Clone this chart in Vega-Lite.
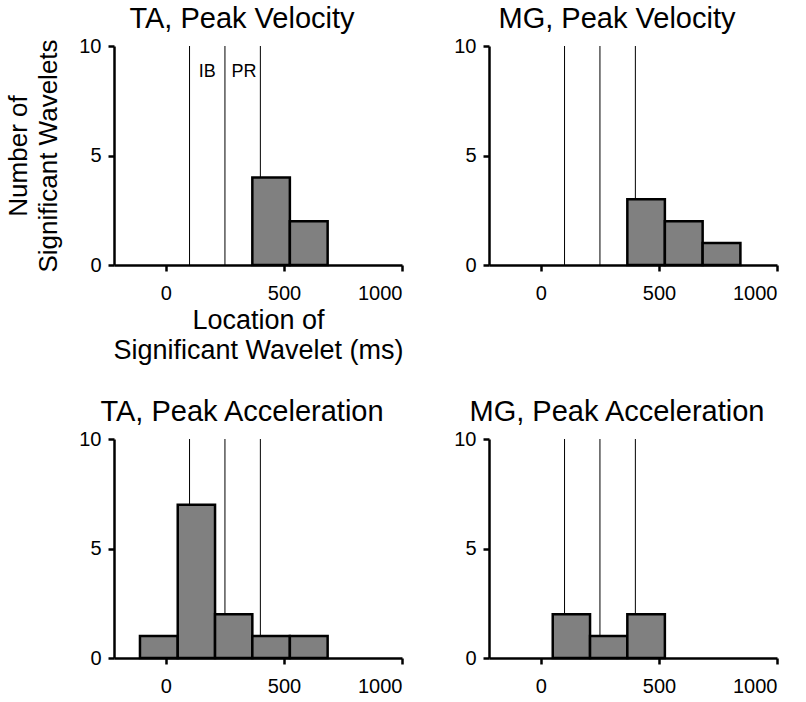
{
  "$schema": "https://vega.github.io/schema/vega-lite/v6.json",
  "background": "white",
  "padding": 5,
  "datasets": {
    "bars": [
      {"panel": "TA_PV", "start": 366, "end": 525, "count": 4},
      {"panel": "TA_PV", "start": 525, "end": 685, "count": 2},
      {"panel": "MG_PV", "start": 366, "end": 525, "count": 3},
      {"panel": "MG_PV", "start": 525, "end": 685, "count": 2},
      {"panel": "MG_PV", "start": 685, "end": 845, "count": 1},
      {"panel": "TA_PA", "start": -110, "end": 50, "count": 1},
      {"panel": "TA_PA", "start": 50, "end": 208, "count": 7},
      {"panel": "TA_PA", "start": 208, "end": 366, "count": 2},
      {"panel": "TA_PA", "start": 366, "end": 525, "count": 1},
      {"panel": "TA_PA", "start": 525, "end": 685, "count": 1},
      {"panel": "MG_PA", "start": 50, "end": 208, "count": 2},
      {"panel": "MG_PA", "start": 208, "end": 366, "count": 1},
      {"panel": "MG_PA", "start": 366, "end": 525, "count": 2}
    ],
    "lines": [{"x": 100}, {"x": 250}, {"x": 400}],
    "labels": [{"x": 175, "y": 8.8, "label": "IB"}, {"x": 331, "y": 8.8, "label": "PR"}]
  },
  "columns": 2,
  "align": "each",
  "spacing": {"row": 35, "column": 49},
  "concat": [
    {
      "width": 288, "height": 219,
      "title": {"text": "TA, Peak Velocity", "dx": -16},
      "layer": [
        {"data": {"name": "lines"}, "mark": {"type": "rule", "color": "black", "strokeWidth": 1},
         "encoding": {"x": {"field": "x", "type": "quantitative", "scale": {"domain": [-220, 1000], "nice": false, "zero": false}}}},
        {"data": {"name": "bars"}, "transform": [{"filter": "datum.panel === 'TA_PV'"}],
         "mark": {"type": "bar", "fill": "#808080", "stroke": "black", "strokeWidth": 2.5},
         "encoding": {
           "x": {"field": "start", "type": "quantitative", "scale": {"domain": [-220, 1000], "nice": false, "zero": false},
                 "axis": {"values": [0, 500, 1000], "format": "d", "title": ["Location of", "Significant Wavelet (ms)"]}},
           "x2": {"field": "end"},
           "y": {"field": "count", "type": "quantitative", "scale": {"domain": [0, 10], "nice": false},
                 "axis": {"values": [0, 5, 10], "title": ["Number of", "Significant Wavelets"], "titleFontSize": 26}},
           "y2": {"datum": 0}
         }},
        {"data": {"name": "labels"}, "mark": {"type": "text", "fontSize": 18, "baseline": "middle", "align": "center"},
         "encoding": {
           "x": {"field": "x", "type": "quantitative"},
           "y": {"field": "y", "type": "quantitative"},
           "text": {"field": "label"}
         }}
      ]
    },
    {
      "width": 288, "height": 219,
      "title": {"text": "MG, Peak Velocity", "dx": -16},
      "layer": [
        {"data": {"name": "lines"}, "mark": {"type": "rule", "color": "black", "strokeWidth": 1},
         "encoding": {"x": {"field": "x", "type": "quantitative", "scale": {"domain": [-220, 1000], "nice": false, "zero": false}}}},
        {"data": {"name": "bars"}, "transform": [{"filter": "datum.panel === 'MG_PV'"}],
         "mark": {"type": "bar", "fill": "#808080", "stroke": "black", "strokeWidth": 2.5},
         "encoding": {
           "x": {"field": "start", "type": "quantitative", "scale": {"domain": [-220, 1000], "nice": false, "zero": false},
                 "axis": {"values": [0, 500, 1000], "format": "d", "title": null}},
           "x2": {"field": "end"},
           "y": {"field": "count", "type": "quantitative", "scale": {"domain": [0, 10], "nice": false},
                 "axis": {"values": [0, 5, 10], "title": null}},
           "y2": {"datum": 0}
         }}
      ]
    },
    {
      "width": 288, "height": 219,
      "title": {"text": "TA, Peak Acceleration", "dx": -16},
      "layer": [
        {"data": {"name": "lines"}, "mark": {"type": "rule", "color": "black", "strokeWidth": 1},
         "encoding": {"x": {"field": "x", "type": "quantitative", "scale": {"domain": [-220, 1000], "nice": false, "zero": false}}}},
        {"data": {"name": "bars"}, "transform": [{"filter": "datum.panel === 'TA_PA'"}],
         "mark": {"type": "bar", "fill": "#808080", "stroke": "black", "strokeWidth": 2.5},
         "encoding": {
           "x": {"field": "start", "type": "quantitative", "scale": {"domain": [-220, 1000], "nice": false, "zero": false},
                 "axis": {"values": [0, 500, 1000], "format": "d", "title": null}},
           "x2": {"field": "end"},
           "y": {"field": "count", "type": "quantitative", "scale": {"domain": [0, 10], "nice": false},
                 "axis": {"values": [0, 5, 10], "title": null}},
           "y2": {"datum": 0}
         }}
      ]
    },
    {
      "width": 288, "height": 219,
      "title": {"text": "MG, Peak Acceleration", "dx": -16},
      "layer": [
        {"data": {"name": "lines"}, "mark": {"type": "rule", "color": "black", "strokeWidth": 1},
         "encoding": {"x": {"field": "x", "type": "quantitative", "scale": {"domain": [-220, 1000], "nice": false, "zero": false}}}},
        {"data": {"name": "bars"}, "transform": [{"filter": "datum.panel === 'MG_PA'"}],
         "mark": {"type": "bar", "fill": "#808080", "stroke": "black", "strokeWidth": 2.5},
         "encoding": {
           "x": {"field": "start", "type": "quantitative", "scale": {"domain": [-220, 1000], "nice": false, "zero": false},
                 "axis": {"values": [0, 500, 1000], "format": "d", "title": null}},
           "x2": {"field": "end"},
           "y": {"field": "count", "type": "quantitative", "scale": {"domain": [0, 10], "nice": false},
                 "axis": {"values": [0, 5, 10], "title": null}},
           "y2": {"datum": 0}
         }}
      ]
    }
  ],
  "config": {
    "font": "Liberation Sans",
    "view": {"stroke": null},
    "title": {"fontSize": 29, "fontWeight": "normal", "color": "black", "offset": 2, "anchor": "middle"},
    "text": {"color": "black", "font": "Liberation Sans"},
    "axis": {
      "grid": false,
      "domainColor": "black", "domainWidth": 2.5,
      "tickColor": "black", "tickWidth": 2.5, "tickSize": 6,
      "labelFontSize": 20, "labelColor": "black", "labelPadding": 7,
      "titleFontSize": 27, "titleFontWeight": "normal", "titleColor": "black", "titleLineHeight": 30
    },
    "axisX": {"labelPadding": 12, "titlePadding": 4},
    "axisY": {"titlePadding": 17, "labelFlush": false}
  }
}
